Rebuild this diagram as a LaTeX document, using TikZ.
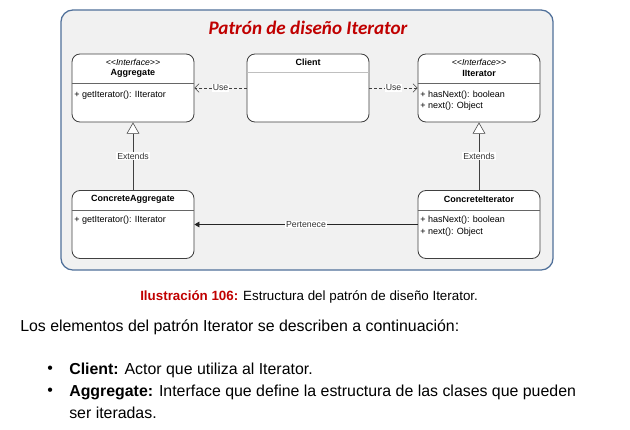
\documentclass[tikz,border=0pt]{standalone}
\usepackage{fontspec}
\setmainfont{Liberation Sans}
\newfontfamily\titlefont{Carlito}
\usetikzlibrary{arrows.meta}
\definecolor{framefill}{HTML}{F1F1F1}
\definecolor{frameline}{HTML}{50709A}
\definecolor{darkred}{HTML}{C00000}
\begin{document}
\begin{tikzpicture}[x=0.025cm,y=-0.025cm,
  cls/.style={draw=black!75,fill=white,line width=0.6pt,rounded corners=2mm,minimum width=3.05cm,minimum height=1.7cm,inner sep=0pt},
  small/.style={font=\fontsize{6.4}{7}\selectfont,inner sep=0pt},
  lbl/.style={font=\fontsize{6.2}{7}\selectfont,fill=white,inner sep=0.6pt,text=black!80},
  use/.style={black!75,dash pattern=on 2pt off 1.5pt,-{Straight Barb[length=3pt,width=6pt]}},
  ext/.style={black!75,-{Triangle[open,length=8pt,width=9pt,fill=white]}},
  own/.style={black!85,-{Triangle[length=3.5pt,width=4pt]}},
  page/.style={font=\fontsize{11.3}{13}\selectfont,anchor=west,inner sep=0pt}]
\useasboundingbox (0,0) rectangle (630,429);
\node[draw=frameline,fill=framefill,rounded corners=3mm,line width=0.9pt,minimum width=12.3cm,minimum height=6.5cm] (frame) at (307,140) {};
\node[text=darkred,font=\titlefont\bfseries\itshape\fontsize{13.6}{15}\selectfont] (title) at (308,28) {Patrón de diseño Iterator};

% classes
\node[cls] (agg) at (133,88) {};
\node[cls] (client) at (308,88) {};
\node[cls] (iter) at (479,88) {};
\node[cls] (cagg) at (133,224.5) {};
\node[cls] (citer) at (479,224.5) {};
\draw[black!60] (agg.north west) ++(0,30) -- ++(122,0);
\draw[black!25,line width=1pt] (client.north west) ++(0,19) -- ++(122,0);
\draw[black!60] (iter.north west) ++(0,30) -- ++(122,0);
\draw[black!60] (cagg.north west) ++(0,20) -- ++(122,0);
\draw[black!60] (citer.north west) ++(0,20) -- ++(122,0);

\node[small,font=\fontsize{6.2}{7}\selectfont\itshape] (agg-st) at (133,62) {<{}<Interface>{}>};
\node[small,font=\fontsize{6.4}{7}\selectfont\bfseries] (agg-name) at (133,73) {Aggregate};
\node[small,anchor=west] (agg-m1) at (74,95) {+ getIterator(): IIterator};
\node[small,font=\fontsize{6.4}{7}\selectfont\bfseries] (client-name) at (308,62) {Client};
\node[small,font=\fontsize{6.2}{7}\selectfont\itshape] (iter-st) at (479,62) {<{}<Interface>{}>};
\node[small,font=\fontsize{6.4}{7}\selectfont\bfseries] (iter-name) at (479,73) {IIterator};
\node[small,anchor=west] (iter-m1) at (420,95) {+ hasNext(): boolean};
\node[small,anchor=west] (iter-m2) at (420,106) {+ next(): Object};
\node[small,font=\fontsize{6.4}{7}\selectfont\bfseries] (cagg-name) at (133,199) {ConcreteAggregate};
\node[small,anchor=west] (cagg-m1) at (74,220) {+ getIterator(): IIterator};
\node[small,font=\fontsize{6.4}{7}\selectfont\bfseries] (citer-name) at (479,199) {ConcreteIterator};
\node[small,anchor=west] (citer-m1) at (420,220) {+ hasNext(): boolean};
\node[small,anchor=west] (citer-m2) at (420,232) {+ next(): Object};

% relations
\draw[use] (client.west) -- node[lbl] {Use} (agg.east);
\draw[use] (client.east) -- node[lbl] {Use} (iter.west);
\draw[ext] (cagg.north) -- node[lbl] {Extends} (agg.south);
\draw[ext] (citer.north) -- node[lbl] {Extends} (iter.south);
\draw[own] (citer.west) -- node[lbl] {Pertenece} (cagg.east);

% page text
\node[page,font=\fontsize{9.5}{11}\selectfont] (caption) at (140,297) {\textcolor{darkred}{\bfseries Ilustración 106:} Estructura del patrón de diseño Iterator.};
\node[page] (intro) at (20,327) {Los elementos del patrón Iterator se describen a continuación:};
\node[page] (b1) at (47,370) {•};
\node[page] (t1) at (69,370) {{\bfseries Client:} Actor que utiliza al Iterator.};
\node[page] (b2) at (47,392) {•};
\node[page] (t2) at (69,392) {{\bfseries Aggregate:} Interface que define la estructura de las clases que pueden};
\node[page] (t3) at (69,413) {ser iteradas.};
\end{tikzpicture}
\end{document}
